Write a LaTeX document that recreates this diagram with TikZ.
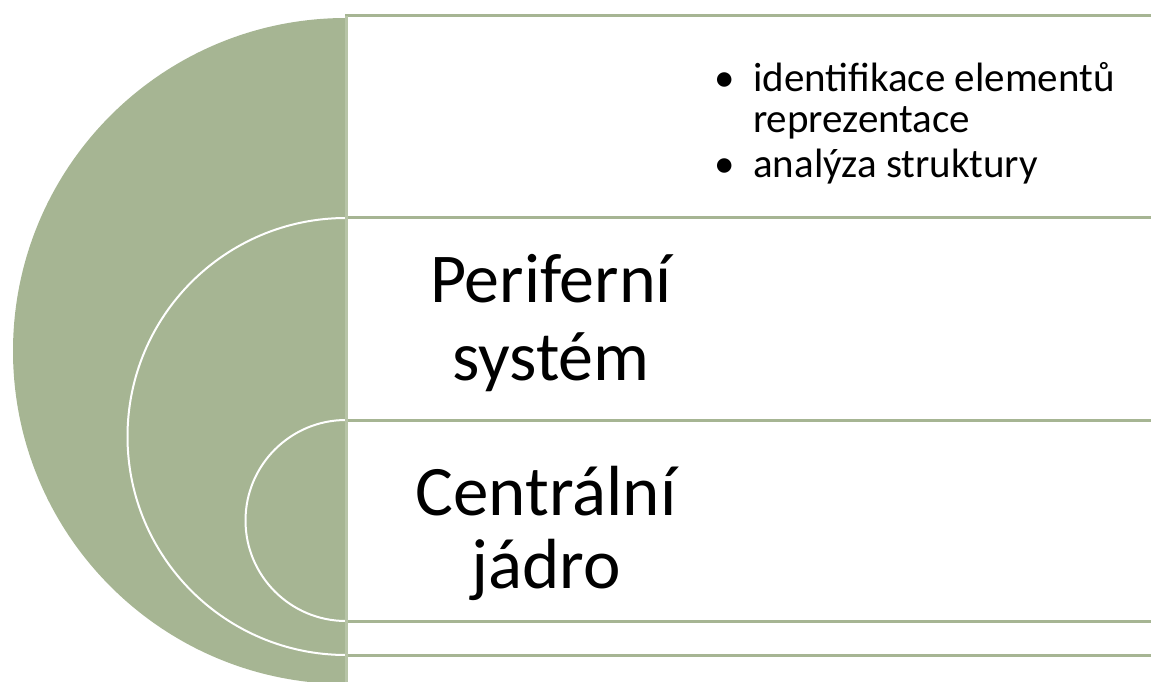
\documentclass[tikz,border=0pt]{standalone}
\usepackage{fontspec}
\setmainfont{Carlito}
\usetikzlibrary{positioning}
\definecolor{sage}{HTML}{A6B593}
\definecolor{sagelight}{HTML}{B7C4A7}

\begin{document}
\begin{tikzpicture}[x=1pt,y=-1pt,
  bigtext/.style={font=\fontsize{70}{78}\selectfont, align=center, inner sep=0pt},
  listtext/.style={font=\fontsize{41}{40}\selectfont, align=left, inner sep=0pt},
  rowline/.style={draw=sage, line width=3pt},
  ring/.style={draw=white, line width=2pt}]
\useasboundingbox (0,0) rectangle (1151,682);
% nested half discs
\begin{scope}
  \clip (0,0) rectangle (345,682);
  \fill[sage] (346,351) circle[radius=333];
  \draw[ring] (346,436.5) circle[radius=218.5];
  \draw[ring] (346,520.5) circle[radius=100.5];
\end{scope}
% row borders
\foreach \y in {16,217,420,621,655}
  \draw[rowline] (345,\y) -- (1151,\y);
\draw[sagelight, line width=3pt] (346,16) -- (346,682);

\node[listtext, anchor=base west] (tasks) at (714,178)
  {\makebox[39pt][l]{•}identifikace elementů\\
   \hspace*{39pt}reprezentace\\[6pt]
   \makebox[39pt][l]{•}analýza struktury};
\node[bigtext, anchor=base] (periferni) at (551,380) {Periferní\\systém};
\node[bigtext, font=\fontsize{71}{73}\selectfont, anchor=base] (centralni) at (546,588) {Centrální\\jádro};
\end{tikzpicture}
\end{document}
